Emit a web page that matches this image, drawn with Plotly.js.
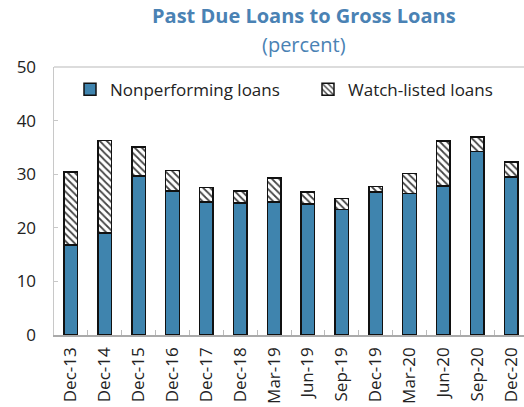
<!DOCTYPE html>
<html>
<head>
<meta charset="utf-8">
<script src="https://cdn.plot.ly/plotly-3.0.1.min.js"></script>
<style>
html,body{margin:0;padding:0;overflow:hidden;background:#fff;}
#chart{width:528px;height:407px;}
</style>
</head>
<body>
<div id="chart"></div>
<script>
const categories = ["Dec-13","Dec-14","Dec-15","Dec-16","Dec-17","Dec-18","Mar-19","Jun-19","Sep-19","Dec-19","Mar-20","Jun-20","Sep-20","Dec-20"];
const nonperforming = [16.8, 19.0, 29.7, 26.9, 24.8, 24.6, 24.8, 24.4, 23.4, 26.7, 26.4, 27.8, 34.2, 29.5];
const watchListed = [13.6, 17.3, 5.4, 3.8, 2.7, 2.3, 4.5, 2.3, 2.1, 1.0, 3.7, 8.4, 2.7, 2.8];
const yTicks = [0, 10, 20, 30, 40, 50];

const fontFam = "Open Sans, Noto Sans, sans-serif";
const blue = "#3F84AE";
const titleColor = "#4A82B4";

const traces = [
  {
    type: "bar", name: "Nonperforming loans", x: categories, y: nonperforming,
    width: 0.4, legend: "legend",
    marker: {color: blue, line: {color: "#111", width: 1.5}}
  },
  {
    type: "bar", name: "Watch-listed loans", x: categories, y: watchListed,
    width: 0.4, legend: "legend2",
    marker: {color: "#fff", line: {color: "#111", width: 1.5},
      pattern: {shape: "\\", fgcolor: "#444", bgcolor: "#fff", size: 5, solidity: 0.35}}
  }
];

const legendBase = {orientation: "h", xanchor: "left", y: 0.915, yanchor: "middle",
  font: {size: 17, color: "#222"}, bgcolor: "rgba(0,0,0,0)"};

const layout = {
  width: 528, height: 407,
  margin: {l: 54, r: 0, t: 67, b: 72},
  barmode: "stack",
  paper_bgcolor: "#fff", plot_bgcolor: "#fff",
  font: {family: fontFam, size: 17, color: "#222"},
  showlegend: true,
  legend: Object.assign({}, legendBase, {x: (70-54)/474}),
  legend2: Object.assign({}, legendBase, {x: (308-54)/474}),
  xaxis: {
    type: "category", showgrid: false, zeroline: false,
    showline: true, linecolor: "#aaa", linewidth: 1.5, mirror: false,
    ticks: "inside", tickson: "boundaries", ticklen: 5, tickcolor: "#bbb", tickwidth: 1,
    tickangle: -90, tickfont: {size: 17, color: "#222"}, ticklabelstandoff: 4
  },
  yaxis: {
    range: [0, 50], tickvals: yTicks, showgrid: false, zeroline: false,
    showline: true, linecolor: "#c8c8c8", linewidth: 1.5,
    ticks: "inside", ticklen: 4, tickcolor: "#c8c8c8",
    tickfont: {size: 17, color: "#222"}, ticklabelstandoff: 13
  },
  shapes: [
    {type: "line", xref: "paper", yref: "paper", x0: 0, x1: 1, y0: 1, y1: 1, line: {color: "#d0d0d0", width: 1.5}}
  ],
  annotations: [
    {text: "<b>Past Due Loans to Gross Loans</b>", xref: "paper", yref: "paper", x: (304-54)/474, y: 1.0 + (67-16)/268, xanchor: "center", yanchor: "middle", showarrow: false, font: {size: 20, color: titleColor, family: fontFam}},
    {text: "(percent)", xref: "paper", yref: "paper", x: (304-54)/474, y: 1.0 + (67-44)/268, xanchor: "center", yanchor: "middle", showarrow: false, font: {size: 20, color: titleColor, family: fontFam}}
  ]
};

Plotly.newPlot("chart", traces, layout, {displayModeBar: false, staticPlot: true});
</script>
</body>
</html>
